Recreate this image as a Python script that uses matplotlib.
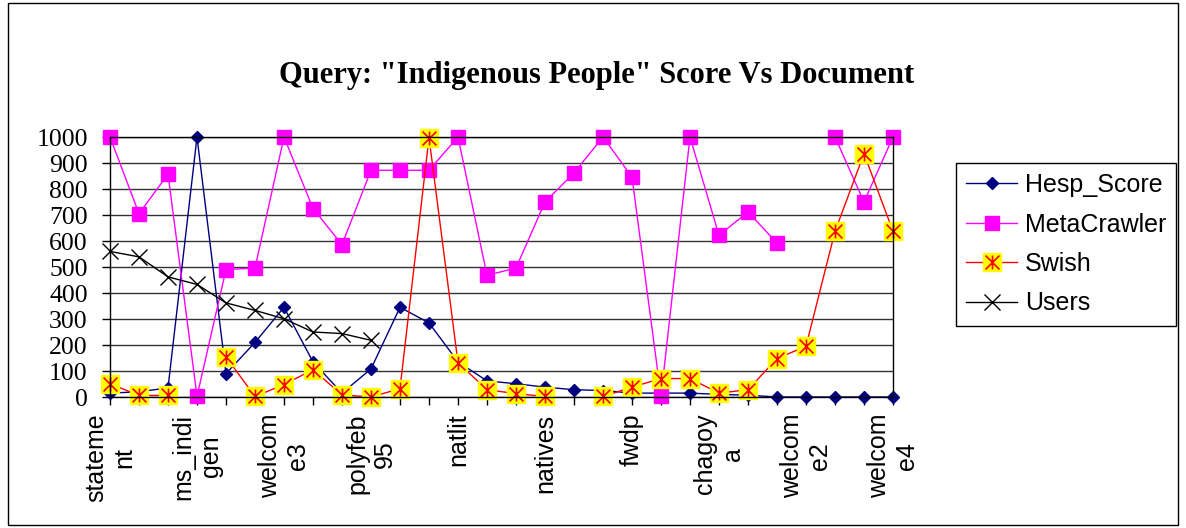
import numpy as np
import matplotlib.pyplot as plt
from matplotlib.path import Path
from matplotlib.patches import Rectangle

nan = np.nan

# Документи (підпис видно лише для кожного третього)
categories = ['stateme\nnt', '', '', 'ms_indi\ngen', '', '', 'welcom\ne3', '', '',
              'polyfeb\n95', '', '', 'natlit', '', '', 'natives', '', '', 'fwdp', '', '',
              'chagoy\na', '', '', 'welcom\ne2', '', '', 'welcom\ne4']

hesp_score = [15, 20, 35, 1000, 90, 210, 345, 135, 15, 108, 345, 285, 135, 62,
              51, 38, 28, 25, 15, 15, 15, 10, 7, 0, 0, 0, 0, 0]
metacrawler = [1000, 705, 857, 3, 490, 496, 1000, 725, 586, 872, 872, 872, 1000, 468,
               496, 750, 862, 1000, 846, 3, 1000, 622, 712, 592, nan, 1000, 750, 1000]
swish = [51, 6, 6, nan, 154, 2, 48, 105, 8, 0, 32, 998, 132, 28,
         13, 2, nan, 2, 38, 71, 71, 15, 28, 148, 195, 637, 936, 637]
users = [560, 539, 462, 433, 362, 333, 301, 250, 244, 218] + [nan] * 18

x = np.arange(len(categories))

W, H = 1186, 528
fig = plt.figure(figsize=(W / 100, H / 100), dpi=100)
ax = fig.add_axes([110 / W, (H - 397) / H, (893 - 110) / W, 260 / H])

# Маркер-зірочка як в Excel: X плюс вертикальна риска
star = Path([(0, -1), (0, 1), (-1, -1), (1, 1), (-1, 1), (1, -1)],
            [Path.MOVETO, Path.LINETO, Path.MOVETO, Path.LINETO, Path.MOVETO, Path.LINETO])

h1, = ax.plot(x, hesp_score, color='#000080', lw=1, marker='D', ms=6.2,
              markeredgecolor='#000080', clip_on=False)
h2, = ax.plot(x, metacrawler, color='#FF00FF', lw=1, marker='s', ms=9.6,
              markeredgecolor='#FF00FF', clip_on=False)
h3, = ax.plot(x, swish, color='#FF0000', lw=1, marker='s', ms=12.5,
              markerfacecolor='#FFFF00', markeredgecolor='#FFFF00', clip_on=False)
h3s, = ax.plot(x, swish, ls='none', marker=star, ms=10, markeredgecolor='#FF0000',
               markeredgewidth=1.2, clip_on=False)
h4, = ax.plot(x, users, color='black', lw=1, marker='x', ms=11,
              markeredgewidth=1, clip_on=False)

ax.set_xlim(0, len(categories) - 1)
ax.set_ylim(0, 1000)
ax.set_yticks(np.arange(0, 1001, 100))
ax.set_xticks(x)
ax.set_xticklabels(categories, rotation=90, ha='center', va='top',
                   multialignment='center', family='Liberation Sans', fontsize=18)
for lab in ax.get_yticklabels():
    lab.set_family('Liberation Serif')
    lab.set_fontsize(18.5)
ax.tick_params(axis='y', direction='out', length=6, width=1, pad=10)
ax.tick_params(axis='x', direction='out', length=6, width=1, pad=6)
ax.yaxis.grid(True, color='#333333', lw=1)
ax.set_axisbelow(True)
for s in ax.spines.values():
    s.set_color('black')
    s.set_linewidth(1)

fig.text(597 / W, 1 - 83 / H, 'Query: "Indigenous People" Score Vs Document',
         ha='center', va='baseline', family='Liberation Serif', weight='bold', fontsize=22)

leg = fig.legend([h1, h2, (h3, h3s), h4], ['Hesp_Score', 'MetaCrawler', 'Swish', 'Users'],
                 loc='upper left', bbox_to_anchor=(956 / W, 1 - 163 / H),
                 prop={'family': 'Liberation Sans', 'size': 18}, fancybox=False,
                 edgecolor='black', framealpha=1, handlelength=2.05, handletextpad=0.3,
                 labelspacing=0.62, borderpad=0.4, borderaxespad=0)
leg.get_frame().set_linewidth(1)

# Рамка навколо всієї діаграми
fig.patches.append(Rectangle((8 / W, 3 / H), (1178 - 8) / W, (525 - 3) / H,
                             transform=fig.transFigure, fill=False, ec='black', lw=1))

fig.savefig('out.png', dpi=100)
